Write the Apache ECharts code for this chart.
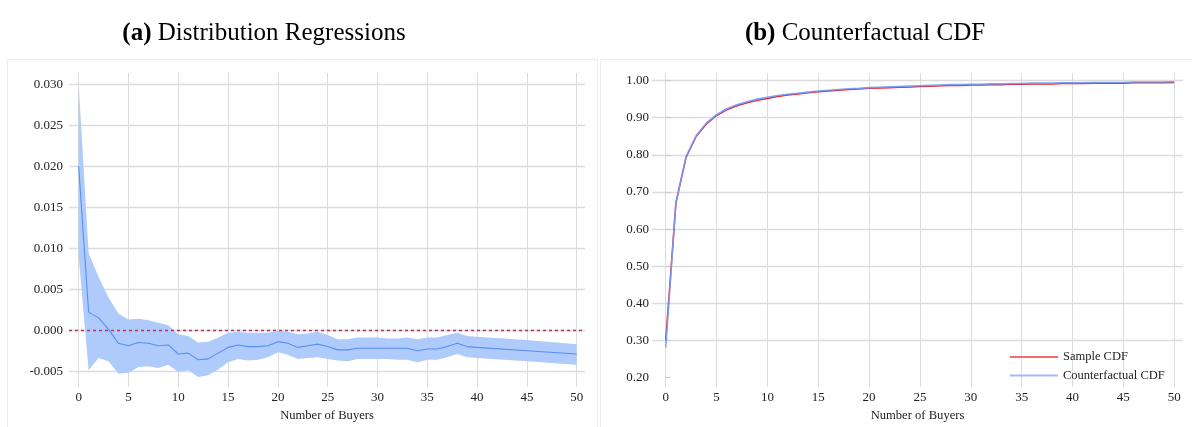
<!DOCTYPE html>
<html>
<head>
<meta charset="utf-8">
<script src="https://cdn.jsdelivr.net/npm/echarts@6/dist/echarts.min.js"></script>
<style>html,body{margin:0;padding:0;background:#fff}#c{width:1192px;height:427px}</style>
</head>
<body>
<div id="c"></div>
<script>
// ---------- Panel (a): Distribution Regressions ----------
const buyersA = [0,1,2,3,4,5,6,7,8,9,10,11,12,13,14,15,16,17,18,19,20,21,22,23,24,25,26,27,28,29,30,31,32,33,34,35,36,37,38,39,40,45,50];
const meanA = [0.0200,0.0022,0.0015,0.0001,-0.0016,-0.0019,-0.0015,-0.0016,-0.0019,-0.0018,-0.0029,-0.0028,-0.0036,-0.0035,-0.0028,-0.0021,-0.0018,-0.0020,-0.0020,-0.0019,-0.0014,-0.0016,-0.0021,-0.0019,-0.0017,-0.0020,-0.0024,-0.0024,-0.0022,-0.0022,-0.0022,-0.0022,-0.0022,-0.0022,-0.0025,-0.0023,-0.0023,-0.0020,-0.0016,-0.0020,-0.0021,-0.0025,-0.0029];
const upperA = [0.0300,0.0094,0.0065,0.0040,0.0020,0.0013,0.0014,0.0012,0.0009,0.0006,-0.0005,-0.0007,-0.0015,-0.0014,-0.0009,-0.0003,-0.0002,-0.0003,-0.0003,-0.0003,-0.0001,-0.0002,-0.0005,-0.0004,-0.0002,-0.0006,-0.0011,-0.0011,-0.0009,-0.0009,-0.0009,-0.0010,-0.0010,-0.0009,-0.0011,-0.0009,-0.0009,-0.0006,-0.0003,-0.0007,-0.0008,-0.0012,-0.0017];
const lowerA = [0.0090,-0.0049,-0.0034,-0.0038,-0.0053,-0.0052,-0.0045,-0.0044,-0.0046,-0.0042,-0.0051,-0.0049,-0.0057,-0.0055,-0.0048,-0.0039,-0.0035,-0.0037,-0.0036,-0.0033,-0.0027,-0.0030,-0.0035,-0.0034,-0.0033,-0.0035,-0.0037,-0.0038,-0.0035,-0.0035,-0.0035,-0.0035,-0.0036,-0.0036,-0.0039,-0.0036,-0.0036,-0.0033,-0.0029,-0.0033,-0.0034,-0.0038,-0.0042];
const yTicksA = [-0.005,0,0.005,0.010,0.015,0.020,0.025,0.030];

// ---------- Panel (b): Counterfactual CDF ----------
const buyersB = [0,1,2,3,4,5,6,7,8,9,10,11,12,13,14,15,16,17,18,19,20,21,22,23,24,25,26,27,28,29,30,31,32,33,34,35,36,37,38,39,40,41,42,43,44,45,46,47,48,49,50];
const sampleCDF = [0.300,0.670,0.793,0.850,0.883,0.906,0.921,0.932,0.940,0.947,0.952,0.957,0.961,0.964,0.967,0.970,0.972,0.974,0.976,0.977,0.979,0.980,0.981,0.982,0.983,0.984,0.985,0.986,0.987,0.987,0.988,0.988,0.989,0.989,0.990,0.990,0.991,0.991,0.991,0.992,0.992,0.992,0.993,0.993,0.993,0.993,0.994,0.994,0.994,0.994,0.995];
const counterCDF = [0.281,0.672,0.795,0.852,0.886,0.908,0.924,0.935,0.943,0.950,0.955,0.960,0.963,0.966,0.969,0.972,0.974,0.976,0.978,0.979,0.981,0.982,0.983,0.984,0.985,0.986,0.987,0.988,0.989,0.989,0.990,0.990,0.991,0.991,0.992,0.992,0.993,0.993,0.993,0.994,0.994,0.994,0.995,0.995,0.995,0.995,0.996,0.996,0.996,0.996,0.997];
const yTicksB = [0.20,0.30,0.40,0.50,0.60,0.70,0.80,0.90,1.00];
const xTicks = [0,5,10,15,20,25,30,35,40,45,50];

const FONT = '"Liberation Serif", "Times New Roman", serif';
const GRID_C = '#dcdcdc';

const zip = (xs, ys) => xs.map((x, i) => [x, ys[i]]);

const chart = echarts.init(document.getElementById('c'), null, {renderer: 'canvas'});

const xAxisCommon = {
  type: 'value',
  axisLine: {show: false},
  axisTick: {show: false, customValues: xTicks},
  axisLabel: {customValues: xTicks, fontFamily: FONT, fontSize: 13, color: '#222', margin: 4},
  splitLine: {show: true, lineStyle: {color: GRID_C, width: 1}},
  name: 'Number of Buyers',
  nameLocation: 'middle',
  nameGap: 18,
  nameTextStyle: {fontFamily: FONT, fontSize: 12.6, color: '#222'}
};

const LINE_ICON = 'path://M0,0 L48,0 L48,2 L0,2 Z';

chart.setOption({
  animation: false,
  backgroundColor: '#fff',
  title: [
    {text: '{b|(a)} Distribution Regressions', left: 264, top: 21, padding: 0, textAlign: 'center',
     textStyle: {fontFamily: FONT, fontSize: 25, fontWeight: 'normal', color: '#000',
       rich: {b: {fontFamily: FONT, fontSize: 25, fontWeight: 'bold', color: '#000'}}}},
    {text: '{b|(b)} Counterfactual CDF', left: 865, top: 21, padding: 0, textAlign: 'center',
     textStyle: {fontFamily: FONT, fontSize: 25, fontWeight: 'normal', color: '#000',
       rich: {b: {fontFamily: FONT, fontSize: 25, fontWeight: 'bold', color: '#000'}}}}
  ],
  graphic: [
    {type: 'rect', shape: {x: 7.5, y: 59.5, width: 590, height: 380}, style: {fill: 'none', stroke: '#ececec', lineWidth: 1}, silent: true, z: -1},
    {type: 'rect', shape: {x: 600.5, y: 59.5, width: 600, height: 380}, style: {fill: 'none', stroke: '#ececec', lineWidth: 1}, silent: true, z: -1}
  ],
  grid: [
    {left: 69, top: 73, width: 516, height: 320},
    {left: 652, top: 73, width: 531, height: 320}
  ],
  legend: {
    orient: 'vertical',
    left: 1005, top: 345.5,
    itemWidth: 48, itemHeight: 2, itemGap: 5.6,
    textStyle: {fontFamily: FONT, fontSize: 12.5, color: '#222', lineHeight: 12},
    data: [
      {name: 'Sample CDF', icon: LINE_ICON, itemStyle: {color: '#f56a6a'}},
      {name: 'Counterfactual CDF', icon: LINE_ICON, itemStyle: {color: '#9dbcff'}}
    ]
  },
  xAxis: [
    Object.assign({}, xAxisCommon, {gridIndex: 0, min: -0.97, max: 50.83}),
    Object.assign({}, xAxisCommon, {gridIndex: 1, min: -1.35, max: 50.87})
  ],
  yAxis: [
    {type: 'value', gridIndex: 0, min: -0.00694, max: 0.03136,
     axisLine: {show: false}, axisTick: {show: false, customValues: yTicksA},
     axisLabel: {customValues: yTicksA, fontFamily: FONT, fontSize: 13, color: '#222', margin: 6,
       formatter: v => v.toFixed(3)},
     splitLine: {show: true, lineStyle: {color: GRID_C, width: 1.3}}},
    {type: 'value', gridIndex: 1, min: 0.1744, max: 1.0204,
     axisLine: {show: false},
     axisTick: {show: true, inside: true, length: 5, customValues: yTicksB, lineStyle: {color: '#cccccc', width: 1.2}},
     axisLabel: {customValues: yTicksB, fontFamily: FONT, fontSize: 13, color: '#222', margin: 3,
       formatter: v => v.toFixed(2)},
     splitLine: {show: true, lineStyle: {color: ['rgba(0,0,0,0)', GRID_C, GRID_C, GRID_C, GRID_C, GRID_C, GRID_C, GRID_C, GRID_C], width: 1.3}}}
  ],
  series: [
    {name: 'band', type: 'custom', xAxisIndex: 0, yAxisIndex: 0, silent: true, z: 2,
     data: buyersA.map((x, i) => [x, lowerA[i], upperA[i]]),
     encode: {x: 0, y: [1, 2]},
     renderItem: function (params, api) {
       if (params.dataIndex !== 0) return {type: 'group', children: []};
       const pts = [];
       for (let i = 0; i < buyersA.length; i++) pts.push(api.coord([buyersA[i], upperA[i]]));
       for (let i = buyersA.length - 1; i >= 0; i--) pts.push(api.coord([buyersA[i], lowerA[i]]));
       return {type: 'polygon', shape: {points: pts}, style: {fill: 'rgb(174,203,251)'}};
     }},
    {name: 'mean', type: 'line', xAxisIndex: 0, yAxisIndex: 0,
     data: zip(buyersA, meanA), symbol: 'none', lineStyle: {color: '#5b8ef2', width: 1.1}, z: 4,
     markLine: {silent: true, symbol: 'none', label: {show: false},
       lineStyle: {color: '#c0305a', type: [3, 3], width: 1.3},
       data: [{yAxis: 0}]}},
    {name: 'Sample CDF', type: 'line', xAxisIndex: 1, yAxisIndex: 1,
     data: zip(buyersB, sampleCDF), symbol: 'none', lineStyle: {color: '#f0202a', width: 1.5}, z: 3},
    {name: 'Counterfactual CDF', type: 'line', xAxisIndex: 1, yAxisIndex: 1,
     data: zip(buyersB, counterCDF), symbol: 'none', lineStyle: {color: '#6e9cff', width: 1.6, opacity: 0.9}, z: 4}
  ]
});
</script>
</body>
</html>
